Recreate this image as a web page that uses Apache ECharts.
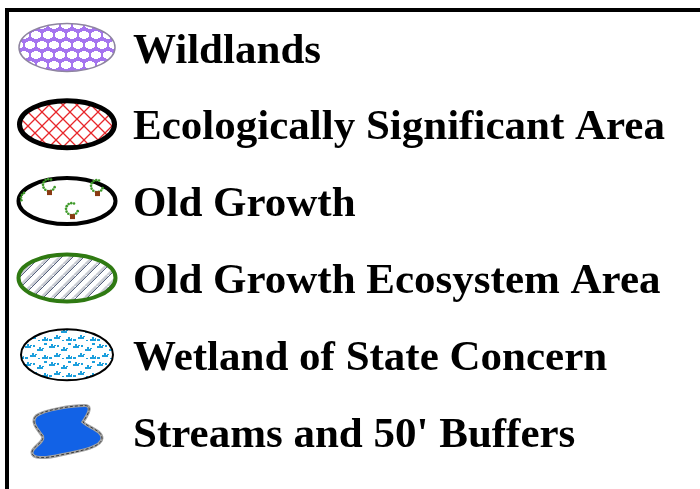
<!DOCTYPE html>
<html>
<head>
<meta charset="utf-8">
<script src="https://cdn.jsdelivr.net/npm/echarts@6/dist/echarts.min.js"></script>
<style>
  html, body { margin: 0; padding: 0; background: #fff; }
  #main { width: 700px; height: 489px; }
</style>
</head>
<body>
<div id="main"></div>
<script>
// legend entries, top to bottom
var categories = ['Wildlands', 'Ecologically Significant Area', 'Old Growth',
  'Old Growth Ecosystem Area', 'Wetland of State Concern', "Streams and 50' Buffers"];
var iconX = 67;   // x value of the swatches
var textX = 133;  // x value where the labels start

var ELLIPSE = 'M0,50 A50,50 0 1,1 100,50 A50,50 0 1,1 0,50 Z';
var BLOB = 'M6,12 C14,6 40,2 52,2 C60,2 54,12 50,18 C56,24 68,26 68,34 ' +
  'C68,42 50,46 30,50 C14,54 2,54 2,48 C2,42 14,38 12,32 C8,26 0,18 6,12 Z';

function makeTile(w, h, draw) {
  var c = document.createElement('canvas');
  c.width = w; c.height = h;
  var ctx = c.getContext('2d');
  draw(ctx, w, h);
  return { image: c, repeat: 'repeat' };
}

// purple lattice
var wildPattern = makeTile(12, 20, function (ctx, w, h) {
  ctx.fillStyle = '#a574ef';
  ctx.fillRect(0, 0, w, h);
  ctx.fillStyle = '#ffffff';
  function cross(cx, cy) {
    ctx.fillRect(cx - 5, cy - 2, 10, 4);
    ctx.fillRect(cx - 2, cy - 4, 4, 8);
    ctx.fillRect(cx - 4, cy - 3, 8, 6);
  }
  cross(6, 5);
  cross(0, 15); cross(12, 15);
});

// red cross hatch
var esaPattern = makeTile(14, 14, function (ctx, w, h) {
  ctx.fillStyle = '#ffffff';
  ctx.fillRect(0, 0, w, h);
  ctx.strokeStyle = '#e8262a';
  ctx.lineWidth = 1.3;
  ctx.beginPath();
  ctx.moveTo(0, 0); ctx.lineTo(w, h);
  ctx.moveTo(w, 0); ctx.lineTo(0, h);
  ctx.stroke();
});

// grey / slate diagonal stripes
var ogeaPattern = makeTile(11, 11, function (ctx, w, h) {
  ctx.fillStyle = '#ffffff';
  ctx.fillRect(0, 0, w, h);
  function stripe(off) {
    ctx.strokeStyle = '#c9ccd3';
    ctx.lineWidth = 3;
    ctx.beginPath();
    ctx.moveTo(off - 2.5, h + 0.5); ctx.lineTo(off + w - 2.5, 0.5);
    ctx.stroke();
    ctx.strokeStyle = '#56627e';
    ctx.lineWidth = 1;
    ctx.beginPath();
    ctx.moveTo(off, h); ctx.lineTo(off + w, 0);
    ctx.stroke();
  }
  stripe(-w); stripe(0); stripe(w);
});

// cyan marsh marks
var wetPattern = makeTile(24, 18, function (ctx, w, h) {
  ctx.fillStyle = '#ffffff';
  ctx.fillRect(0, 0, w, h);
  ctx.fillStyle = '#1c9fdd';
  function mark(x, y) {
    ctx.fillRect(x, y + 2, 6, 2);
    ctx.fillRect(x + 2, y, 2, 2);
    ctx.fillRect(x + 5, y + 1, 2, 1);
  }
  mark(1, 2); mark(13, 5); mark(6, 11); mark(18, 13);
  ctx.fillRect(9, 3, 2, 2); ctx.fillRect(20, 1, 3, 2);
  ctx.fillRect(1, 15, 3, 2); ctx.fillRect(14, 16, 2, 1);
});

var swatchStyles = [
  { path: ELLIPSE, size: [96, 48], color: wildPattern, border: '#8e84a0', bw: 1.5 },
  { path: ELLIPSE, size: [95, 47], color: esaPattern, border: '#000000', bw: 5 },
  { path: ELLIPSE, size: [97, 46], color: '#ffffff', border: '#000000', bw: 4 },
  { path: ELLIPSE, size: [97, 47], color: ogeaPattern, border: '#2f7a12', bw: 4 },
  { path: ELLIPSE, size: [92, 51], color: wetPattern, border: '#000000', bw: 2 },
  { path: BLOB, size: [70, 52], color: '#1262e6', border: '#a4a4a4', bw: 3 }
];

// small trees inside the Old Growth swatch, trunk offsets from its centre
var trees = [[-18, -9], [30, -8], [5, 15], [-40, 4]];

function treeChildren(cx, cy) {
  var out = [];
  trees.forEach(function (t, k) {
    var x = cx + t[0], y = cy + t[1];
    var from = k === 3 ? 120 : 70, to = k === 3 ? 210 : 340;
    for (var a = from; a <= to; a += 27) {
      var r = a * Math.PI / 180;
      out.push({ type: 'circle', shape: { cx: x + 6 * Math.cos(r), cy: y - 7 - 6 * Math.sin(r), r: 1.3 },
        style: { fill: '#3f9a2a' } });
    }
    if (k !== 3) {
      out.push({ type: 'rect', shape: { x: x - 2, y: y - 2, width: 5, height: 5 },
        style: { fill: '#8a3a12' } });
    }
  });
  return out;
}

var chart = echarts.init(document.getElementById('main'));

var option = {
  animation: false,
  backgroundColor: '#ffffff',
  grid: { left: 0, right: 0, top: 9, bottom: 19 },
  xAxis: { type: 'value', min: 0, max: 700, show: false },
  yAxis: { type: 'category', data: categories, inverse: true, show: false },
  graphic: [
    { type: 'rect', shape: { x: 5, y: 8, width: 700, height: 4 }, style: { fill: '#000' } },
    { type: 'rect', shape: { x: 5, y: 8, width: 4, height: 490 }, style: { fill: '#000' } }
  ],
  series: [
    {
      type: 'custom',
      silent: true,
      clip: false,
      data: categories.map(function (c, i) { return [iconX, i]; }),
      renderItem: function (params, api) {
        var i = params.dataIndex;
        var s = swatchStyles[i];
        var p = api.coord([api.value(0), api.value(1)]);
        var box = { x: p[0] - s.size[0] / 2, y: p[1] - s.size[1] / 2, width: s.size[0], height: s.size[1] };
        var children = [{
          type: 'path',
          shape: { pathData: s.path, x: box.x, y: box.y, width: box.width, height: box.height, layout: 'cover' },
          style: { fill: s.color, stroke: s.border, lineWidth: s.bw }
        }];
        if (i === 5) {
          children.push({
            type: 'path',
            shape: { pathData: s.path, x: box.x, y: box.y, width: box.width, height: box.height, layout: 'cover' },
            style: { fill: null, stroke: '#3a3a3a', lineWidth: 1, lineDash: [3, 2] }
          });
        }
        if (i === 2) {
          children = children.concat(treeChildren(p[0], p[1]));
        }
        return { type: 'group', children: children };
      }
    },
    {
      type: 'scatter',
      clip: false,
      silent: true,
      symbolSize: 0,
      itemStyle: { opacity: 1 },
      data: categories.map(function (c) { return [textX, c]; }),
      label: {
        show: true,
        position: 'right',
        distance: 0,
        offset: [0, 4],
        formatter: function (p) { return p.value[1]; },
        color: '#000000',
        opacity: 1,
        fontFamily: 'Liberation Serif',
        fontWeight: 'bold',
        fontSize: 43
      }
    }
  ]
};

chart.setOption(option);
</script>
</body>
</html>
